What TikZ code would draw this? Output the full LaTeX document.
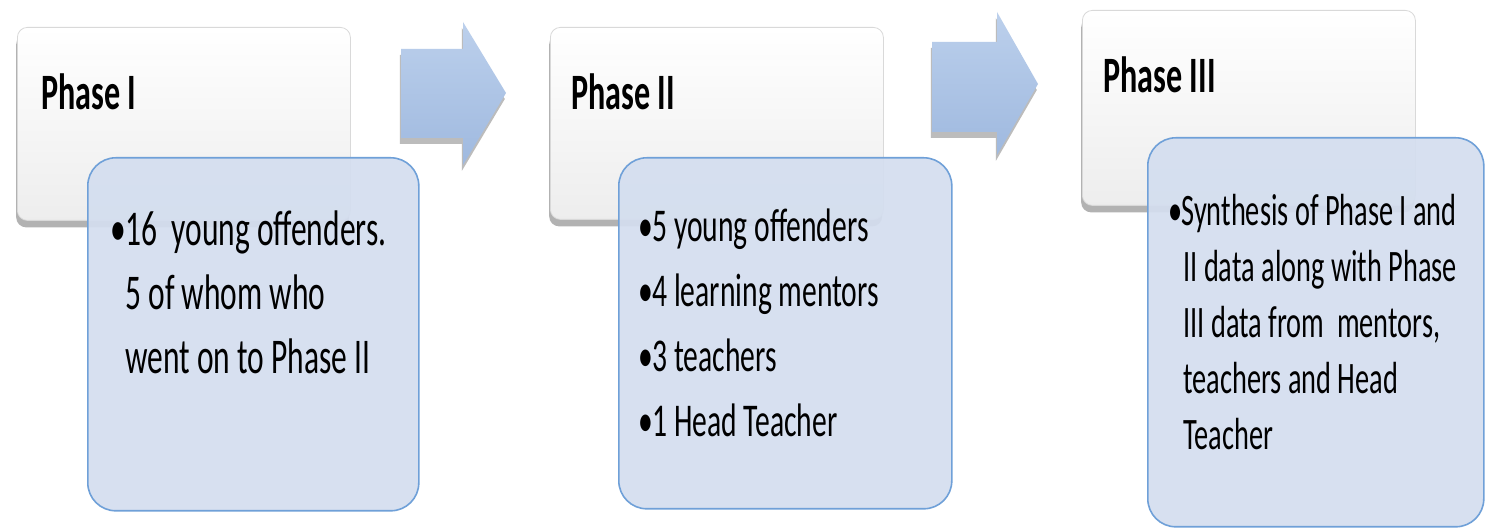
\documentclass[tikz,border=0pt]{standalone}
\usepackage{fontspec}
\newfontfamily\calfont[FakeStretch=0.63]{Carlito}
\usetikzlibrary{shadows}
\definecolor{boxblue}{HTML}{D4DEEF}
\definecolor{boxedge}{HTML}{6FA0D8}
\definecolor{arrtop}{HTML}{BCD0EC}
\definecolor{arrbot}{HTML}{9FB9DF}
\begin{document}
\begin{tikzpicture}[x=0.5pt,y=-0.5pt,
  phasebox/.style={rectangle, rounded corners=5pt, draw=gray!30, line width=0.4pt,
    top color=white, bottom color=gray!14, inner sep=0, anchor=north west,
    drop shadow={shadow xshift=-0.6pt, shadow yshift=-3.5pt, opacity=0.4, fill=black!75}},
  infobox/.style={rectangle, rounded corners=14pt, fill=boxblue, fill opacity=0.93,
    draw=boxedge, draw opacity=1, line width=0.8pt, inner sep=0, anchor=north west},
  flowarrow/.style={top color=arrtop, bottom color=arrbot,
    drop shadow={shadow xshift=-0.6pt, shadow yshift=-3pt, opacity=0.35, fill=black!75}},
  hd/.style={font=\calfont\bfseries\fontsize{25.5pt}{30pt}\selectfont, inner sep=0, anchor=base west},
  tA/.style={font=\calfont\fontsize{25pt}{30pt}\selectfont, inner sep=0, anchor=base west},
  tB/.style={font=\calfont\fontsize{23.5pt}{28pt}\selectfont, inner sep=0, anchor=base west},
  tC/.style={font=\calfont\fontsize{22.5pt}{27pt}\selectfont, inner sep=0, anchor=base west}]
\useasboundingbox[fill=white] (0,0) rectangle (1485,528);

% arrows
\path[flowarrow] (401,49) -- (463,49) -- (463,22) -- (506,93) -- (463,165) -- (463,138) -- (401,138) -- cycle;
\path[flowarrow] (932,42) -- (997,42) -- (997,12) -- (1038,84) -- (997,155) -- (997,132) -- (932,132) -- cycle;

% phase boxes
\node[phasebox, minimum width=166.5pt, minimum height=96.5pt] (ph1) at (17,27) {};
\node[phasebox, minimum width=166.5pt, minimum height=96pt] (ph2) at (550,27) {};
\node[phasebox, minimum width=166.5pt, minimum height=97.5pt] (ph3) at (1082,10) {};

\node[hd] (h1) at (41,110) {Phase I};
\node[hd] (h2) at (571,110) {Phase II};
\node[hd] (h3) at (1103,93) {Phase III};

% info boxes
\node[infobox, minimum width=165.5pt, minimum height=176.5pt] (b1) at (87,157) {};
\node[infobox, minimum width=166.5pt, minimum height=175.5pt] (b2) at (618,157) {};
\node[infobox, minimum width=168pt, minimum height=194.5pt] (b3) at (1147,137) {};

% texts box 1
\node[tA] (a1) at (125,246) {\llap{•\hspace{-0.5pt}}16\ \ young offenders.};
\node[tA] (a2) at (125,310) {5 of whom who};
\node[tA] (a3) at (125,374) {went on to Phase II};

% texts box 2
\node[tB] (c1) at (652,242) {\llap{•\hspace{-0.5pt}}5 young offenders};
\node[tB] (c2) at (652,307) {\llap{•\hspace{-0.5pt}}4 learning mentors};
\node[tB] (c3) at (652,372) {\llap{•\hspace{-0.5pt}}3 teachers};
\node[tB] (c4) at (652,437) {\llap{•\hspace{-0.5pt}}1 Head Teacher};

% texts box 3
\node[tC] (d1) at (1181,226) {\llap{•\hspace{-0.5pt}}Synthesis of Phase I and};
\node[tC] (d2) at (1183,282) {II data along with Phase};
\node[tC] (d3) at (1183,338) {III data from\ \ mentors,};
\node[tC] (d4) at (1183,394) {teachers and Head};
\node[tC] (d5) at (1183,450) {Teacher};
\end{tikzpicture}
\end{document}
